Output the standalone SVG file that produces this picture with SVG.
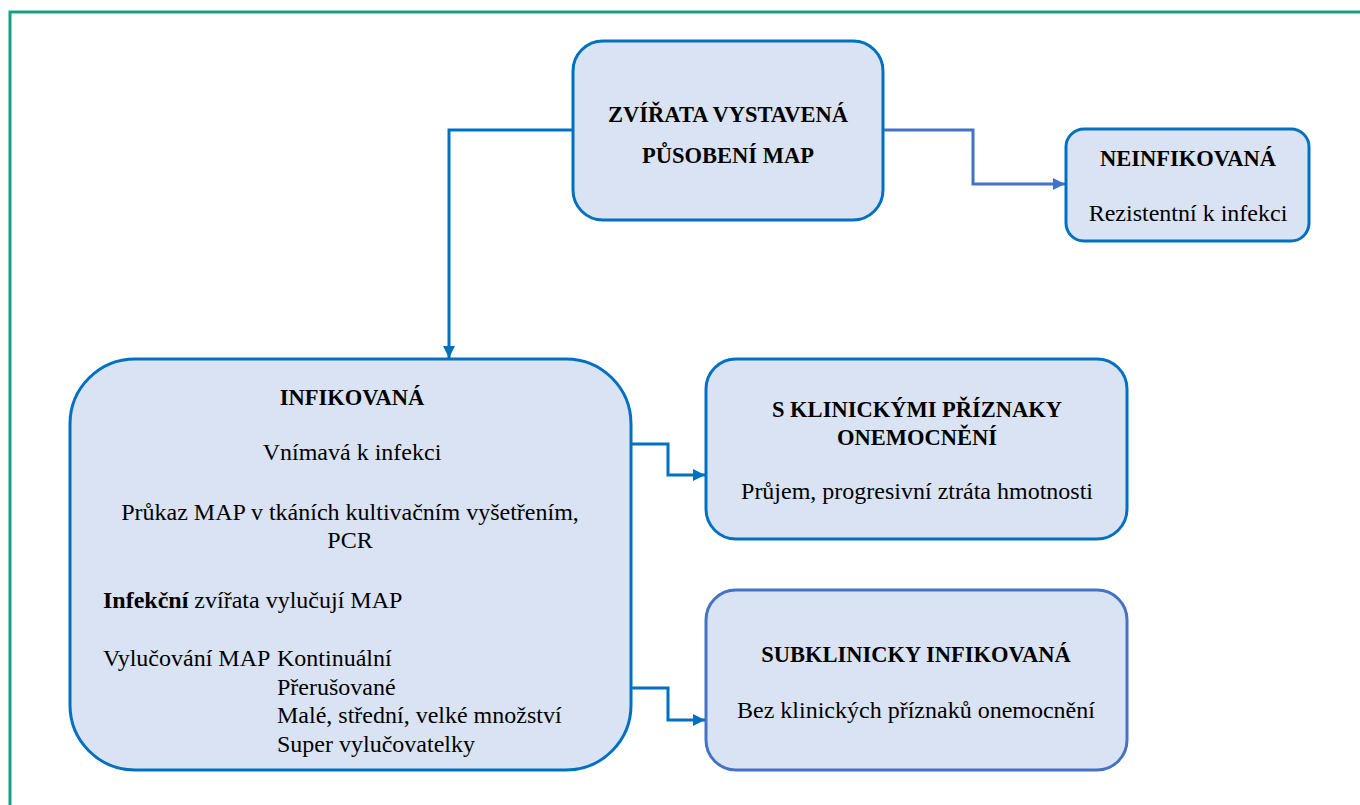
<svg xmlns="http://www.w3.org/2000/svg" width="1360" height="805" viewBox="0 0 1360 805" font-family="Liberation Serif, Times New Roman, serif">
<style>
.box{fill:#dae3f3;stroke:#0070c0;stroke-width:3}
.box2{fill:#dae3f3;stroke:#4472c4;stroke-width:3}
.h{font-weight:bold;font-size:22.5px;fill:#000;text-anchor:middle}
.t{font-size:24px;fill:#000}
.c{text-anchor:middle}
.con{fill:none;stroke:#0070c0;stroke-width:3}
.con2{fill:none;stroke:#4472c4;stroke-width:3}
</style>
<defs>
<marker id="a1" viewBox="0 0 10 10" refX="10" refY="5" markerWidth="4" markerHeight="4" orient="auto" markerUnits="strokeWidth"><path d="M0,0 L10,5 L0,10 z" fill="#0070c0"/></marker>
<marker id="a2" viewBox="0 0 10 10" refX="10" refY="5" markerWidth="4" markerHeight="4" orient="auto" markerUnits="strokeWidth"><path d="M0,0 L10,5 L0,10 z" fill="#4472c4"/></marker>
</defs>
<rect x="0" y="0" width="1360" height="805" fill="#fff"/>
<rect x="10" y="12" width="1400" height="850" fill="none" stroke="#16a085" stroke-width="3"/>
<g id="connectors">
<path class="con" d="M573,130 H449 V358" marker-end="url(#a1)"/>
<path class="con2" d="M883,130 H973 V184 H1065" marker-end="url(#a2)"/>
<path class="con" d="M631,444 H668 V475 H705" marker-end="url(#a1)"/>
<path class="con" d="M631,688 H668 V720 H705" marker-end="url(#a1)"/>
</g>
<g id="node-exposed">
<rect class="box" x="573" y="41" width="310" height="179" rx="30"/>
<text class="h" x="728" y="122">ZVÍŘATA VYSTAVENÁ</text>
<text class="h" x="728" y="163">PŮSOBENÍ MAP</text>
</g>
<g id="node-uninfected">
<rect class="box" x="1066" y="129" width="243" height="112" rx="18"/>
<text class="h" x="1188" y="166">NEINFIKOVANÁ</text>
<text class="t c" x="1188" y="221">Rezistentní k infekci</text>
</g>
<g id="node-infected">
<rect class="box" x="70" y="359" width="561" height="411" rx="65"/>
<text class="h" x="352" y="405">INFIKOVANÁ</text>
<text class="t c" x="352" y="460">Vnímavá k infekci</text>
<text class="t c" x="350" y="520">Průkaz MAP v tkáních kultivačním vyšetřením,</text>
<text class="t c" x="350" y="548">PCR</text>
<text class="t" x="103" y="608"><tspan font-weight="bold">Infekční</tspan> zvířata vylučují MAP</text>
<text class="t" x="103" y="666">Vylučování MAP</text>
<text class="t" x="277" y="666">Kontinuální</text>
<text class="t" x="277" y="695">Přerušované</text>
<text class="t" x="277" y="723">Malé, střední, velké množství</text>
<text class="t" x="277" y="752">Super vylučovatelky</text>
</g>
<g id="node-clinical">
<rect class="box" x="706" y="359" width="421" height="180" rx="30"/>
<text class="h" x="917" y="417">S KLINICKÝMI PŘÍZNAKY</text>
<text class="h" x="917" y="445">ONEMOCNĚNÍ</text>
<text class="t c" x="917" y="499">Průjem, progresivní ztráta hmotnosti</text>
</g>
<g id="node-subclinical">
<rect class="box2" x="706" y="590" width="421" height="180" rx="30"/>
<text class="h" x="916" y="662">SUBKLINICKY INFIKOVANÁ</text>
<text class="t c" x="916" y="718">Bez klinických příznaků onemocnění</text>
</g>
</svg>
